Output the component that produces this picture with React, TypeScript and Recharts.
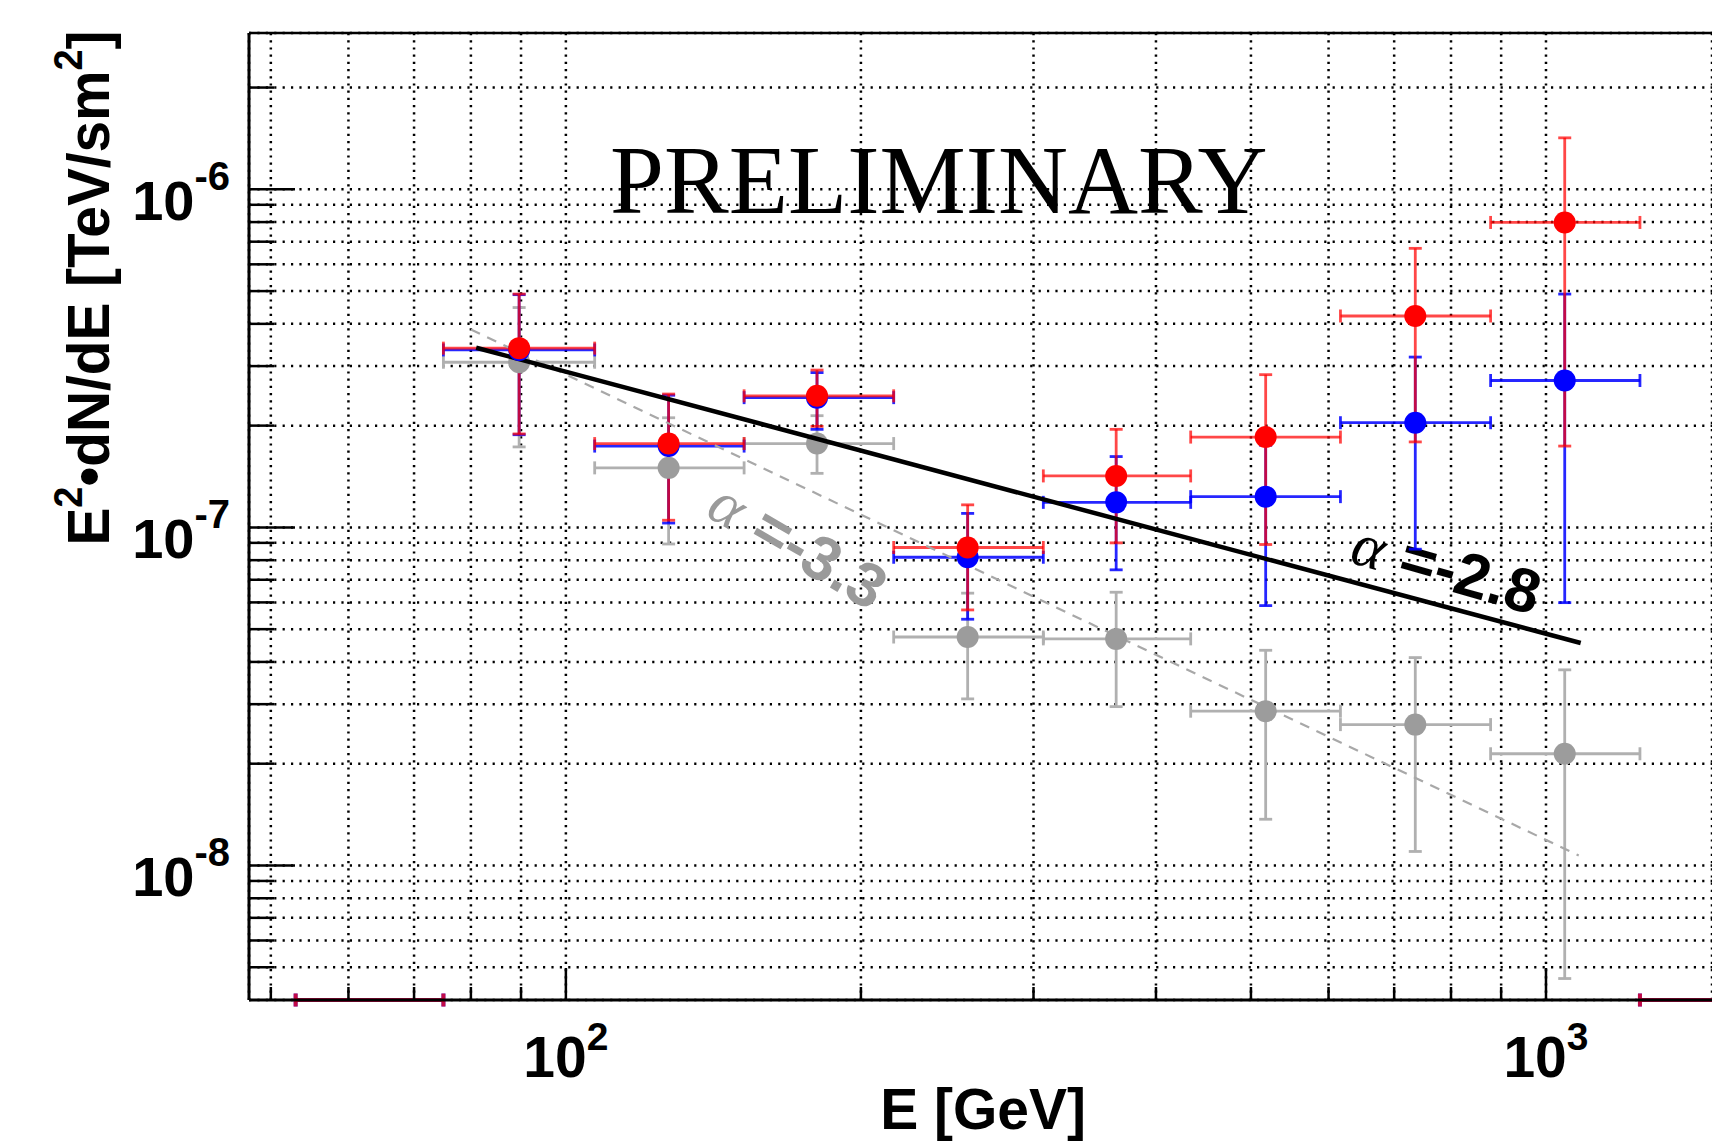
import React from "react";
import {
  ScatterChart,
  Scatter,
  XAxis,
  YAxis,
  CartesianGrid,
  ErrorBar,
  ReferenceLine,
} from "recharts";

// energy bins [GeV]
const binLow = [75, 107, 152, 216, 307, 434, 617, 878];
const binHigh = [107, 152, 216, 307, 434, 617, 878, 1247];
const energy = [89.6, 127.3, 180.4, 257, 364.3, 517.6, 735.6, 1045];

// E^2 dN/dE [TeV/sm^2] : value, lower and upper end of the error bar
const redFlux = [3.39e-7, 1.77e-7, 2.45e-7, 8.72e-8, 1.42e-7, 1.85e-7, 4.22e-7, 7.98e-7];
const redLow = [1.89e-7, 1.05e-7, 1.99e-7, 5.7e-8, 9.0e-8, 8.9e-8, 1.79e-7, 1.74e-7];
const redHigh = [4.9e-7, 2.48e-7, 2.92e-7, 1.166e-7, 1.95e-7, 2.83e-7, 6.69e-7, 1.42e-6];

const blueFlux = [3.35e-7, 1.74e-7, 2.42e-7, 8.16e-8, 1.186e-7, 1.233e-7, 2.04e-7, 2.72e-7];
const blueLow = [1.88e-7, 1.03e-7, 1.95e-7, 5.35e-8, 7.49e-8, 5.87e-8, 8.62e-8, 5.99e-8];
const blueHigh = [4.88e-7, 2.46e-7, 2.87e-7, 1.1e-7, 1.62e-7, 1.75e-7, 3.19e-7, 4.9e-7];

const grayFlux = [3.08e-7, 1.5e-7, 1.77e-7, 4.74e-8, 4.68e-8, 2.86e-8, 2.61e-8, 2.14e-8];
const grayLow = [1.73e-7, 8.93e-8, 1.445e-7, 3.11e-8, 2.95e-8, 1.37e-8, 1.1e-8, 4.63e-9];
const grayHigh = [4.47e-7, 2.11e-7, 2.14e-7, 6.39e-8, 6.43e-8, 4.33e-8, 4.12e-8, 3.79e-8];

// bins whose flux lies below the frame: only the energy bar shows, on the floor
const floorEnergy = [63, 1485];
const floorLow = [53, 1247];
const floorHigh = [75, 1770];

// power-law fits (straight in log-log), end points
const fit28E = [81, 1085];
const fit28F = [3.4e-7, 4.55e-8];
const fit33E = [80, 1080];
const fit33F = [3.85e-7, 1.07e-8];

const X_DOMAIN = [47.5, 1477];
const Y_DOMAIN = [4e-9, 2.9e-6];

const xTicks = [50, 60, 70, 80, 90, 100, 200, 300, 400, 500, 600, 700, 800, 900, 1000];
const xLabelValues = [100, 1000];
const xLabelExp = ["2", "3"];

const yTicks = [
  5e-9, 6e-9, 7e-9, 8e-9, 9e-9,
  1e-8, 2e-8, 3e-8, 4e-8, 5e-8, 6e-8, 7e-8, 8e-8, 9e-8,
  1e-7, 2e-7, 3e-7, 4e-7, 5e-7, 6e-7, 7e-7, 8e-7, 9e-7,
  1e-6, 2e-6,
];
const yLabelValues = [1e-8, 1e-7, 1e-6];
const yLabelExp = ["-8", "-7", "-6"];

const SANS = "'Liberation Sans', Arial, Helvetica, sans-serif";
const SERIF = "'Liberation Serif', 'Times New Roman', serif";

const toPoints = (flux: number[], low: number[], high: number[]) =>
  energy.map((e, i) => ({
    x: e,
    y: flux[i],
    ex: [e - binLow[i], binHigh[i] - e],
    ey: [flux[i] - low[i], high[i] - flux[i]],
  }));

const redData = toPoints(redFlux, redLow, redHigh);
const blueData = toPoints(blueFlux, blueLow, blueHigh);
const grayData = toPoints(grayFlux, grayLow, grayHigh);
const floorData = floorEnergy.map((e, i) => ({
  x: e,
  y: Y_DOMAIN[0],
  ex: [e - floorLow[i], floorHigh[i] - e],
}));
const fit28Data = fit28E.map((e, i) => ({ x: e, y: fit28F[i] }));
const fit33Data = fit33E.map((e, i) => ({ x: e, y: fit33F[i] }));

const findMajor = (v: number, list: number[]) =>
  list.findIndex((m) => Math.abs(v / m - 1) < 1e-6);

function XTick(props: any) {
  const { x, y, payload } = props;
  const i = findMajor(payload.value, xLabelValues);
  const len = i >= 0 ? 32 : 13;
  return (
    <g>
      <line x1={x} y1={y} x2={x} y2={y - len} stroke="#000" strokeWidth={2.5} />
      {i >= 0 && (
        <text
          x={x}
          y={y + 77}
          textAnchor="middle"
          fontFamily={SANS}
          fontWeight="bold"
          fontSize={57}
          fill="#000"
        >
          10
          <tspan dy={-27} fontSize={39}>
            {xLabelExp[i]}
          </tspan>
        </text>
      )}
    </g>
  );
}

function YTick(props: any) {
  const { x, y, payload } = props;
  const i = findMajor(payload.value, yLabelValues);
  const len = i >= 0 ? 46 : 25;
  return (
    <g>
      <line x1={x} y1={y} x2={x + len} y2={y} stroke="#000" strokeWidth={2.5} />
      {i >= 0 && (
        <text
          x={x - 19}
          y={y + 31}
          textAnchor="end"
          fontFamily={SANS}
          fontWeight="bold"
          fontSize={56}
          fill="#000"
        >
          10
          <tspan dy={-30} fontSize={40}>
            {yLabelExp[i]}
          </tspan>
        </text>
      )}
    </g>
  );
}

function XTitle() {
  return (
    <text
      x={1086}
      y={1129}
      textAnchor="end"
      fontFamily={SANS}
      fontWeight="bold"
      fontSize={57}
      fill="#000"
    >
      E [GeV]
    </text>
  );
}

function YTitle() {
  return (
    <text
      x={109}
      y={288}
      transform="rotate(-90 109 288)"
      textAnchor="middle"
      fontFamily={SANS}
      fontWeight="bold"
      fontSize={60}
      fill="#000"
      textLength={515}
      lengthAdjust="spacingAndGlyphs"
    >
      E
      <tspan dy={-27} fontSize={40}>
        2
      </tspan>
      <tspan dy={27}>•dN/dE [TeV/sm</tspan>
      <tspan dy={-27} fontSize={40}>
        2
      </tspan>
      <tspan dy={27}>]</tspan>
    </text>
  );
}

const dot = (fill: string) => (p: any) => (
  <circle cx={p.cx} cy={p.cy} r={11} fill={fill} />
);
const noDot = () => <g />;

const RED_BAR = "rgba(255,0,0,0.72)";
const BLUE_BAR = "rgba(0,0,255,0.85)";
const GRAY_BAR = "#b0b0b0";

export default function App() {
  return (
    <div
      style={{
        position: "absolute",
        left: 0,
        top: 0,
        width: 1712,
        height: 1142,
        overflow: "hidden",
        background: "#fff",
      }}
    >
      <ScatterChart
        width={1712}
        height={1142}
        margin={{ top: 33, right: 0, bottom: 0, left: 0 }}
      >
        <CartesianGrid
          horizontal
          vertical={false}
          stroke="#000"
          strokeWidth={2.5}
          strokeDasharray="2.2 6.2"
        />
        <CartesianGrid
          horizontal={false}
          vertical
          stroke="#000"
          strokeWidth={2.5}
          strokeDasharray="2.2 5"
        />
        <XAxis
          type="number"
          dataKey="x"
          scale="log"
          domain={X_DOMAIN}
          allowDataOverflow
          ticks={xTicks}
          interval={0}
          tickSize={0}
          tickMargin={0}
          tickLine={false}
          tick={(p: any) => <XTick {...p} />}
          height={142}
          axisLine={{ stroke: "#000", strokeWidth: 3 }}
          label={<XTitle />}
        />
        <YAxis
          type="number"
          dataKey="y"
          scale="log"
          domain={Y_DOMAIN}
          allowDataOverflow
          ticks={yTicks}
          interval={0}
          tickSize={0}
          tickMargin={0}
          tickLine={false}
          tick={(p: any) => <YTick {...p} />}
          width={249}
          axisLine={{ stroke: "#000", strokeWidth: 3 }}
          label={<YTitle />}
        />
        <ReferenceLine
          y={Y_DOMAIN[1]}
          stroke="#000"
          strokeWidth={2.5}
          ifOverflow="visible"
        />

        <Scatter
          data={fit33Data}
          line={{ stroke: "#a8a8a8", strokeWidth: 2.2, strokeDasharray: "10 8" }}
          stroke="#a8a8a8"
          shape={noDot}
          isAnimationActive={false}
        />
        <Scatter data={grayData} shape={dot("#9c9c9c")} isAnimationActive={false}>
          <ErrorBar dataKey="ex" direction="x" width={6.5} stroke={GRAY_BAR} strokeWidth={2.8} />
          <ErrorBar dataKey="ey" direction="y" width={6.5} stroke={GRAY_BAR} strokeWidth={2.8} />
        </Scatter>
        <Scatter
          data={fit28Data}
          line={{ stroke: "#000", strokeWidth: 4.5 }}
          stroke="#000"
          shape={noDot}
          isAnimationActive={false}
        />
        <Scatter data={floorData} shape={noDot} isAnimationActive={false}>
          <ErrorBar dataKey="ex" direction="x" width={6.5} stroke={BLUE_BAR} strokeWidth={4} />
        </Scatter>
        <Scatter data={floorData} shape={noDot} isAnimationActive={false}>
          <ErrorBar dataKey="ex" direction="x" width={6.5} stroke={RED_BAR} strokeWidth={4} />
        </Scatter>
        <Scatter data={blueData} shape={dot("#0000ff")} isAnimationActive={false}>
          <ErrorBar dataKey="ex" direction="x" width={6.5} stroke={BLUE_BAR} strokeWidth={2.8} />
          <ErrorBar dataKey="ey" direction="y" width={6.5} stroke={BLUE_BAR} strokeWidth={2.8} />
        </Scatter>
        <Scatter data={redData} shape={dot("#ff0000")} isAnimationActive={false}>
          <ErrorBar dataKey="ex" direction="x" width={6.5} stroke={RED_BAR} strokeWidth={2.8} />
          <ErrorBar dataKey="ey" direction="y" width={6.5} stroke={RED_BAR} strokeWidth={2.8} />
        </Scatter>

        <text x={610} y={213} fontFamily={SERIF} fontSize={97} fill="#000">
          PRELIMINARY
        </text>
        <text x={704} y={515} transform="rotate(30 704 515)" fill="#9a9a9a">
          <tspan fontFamily={SERIF} fontStyle="italic" fontSize={62}>
            α
          </tspan>
          <tspan fontFamily={SANS} fontWeight="bold" fontSize={62}>
            {" =-3.3"}
          </tspan>
        </text>
        <text x={1348} y={562} transform="rotate(16 1348 562)" fill="#000">
          <tspan fontFamily={SERIF} fontStyle="italic" fontSize={62}>
            α
          </tspan>
          <tspan fontFamily={SANS} fontWeight="bold" fontSize={62}>
            {" =-2.8"}
          </tspan>
        </text>
      </ScatterChart>
    </div>
  );
}
